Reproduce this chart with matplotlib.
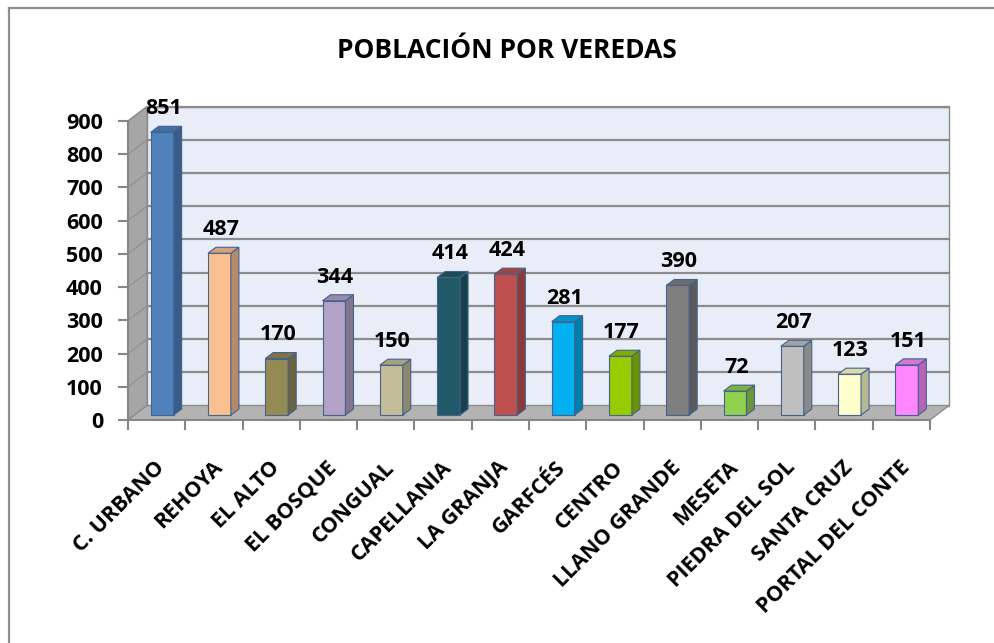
import matplotlib
matplotlib.use("Agg")
import matplotlib.pyplot as plt
from matplotlib.patches import Polygon
from matplotlib.lines import Line2D
from matplotlib.colors import to_rgb

veredas = ["C. URBANO", "REHOYA", "EL ALTO", "EL BOSQUE", "CONGUAL", "CAPELLANIA",
           "LA GRANJA", "GARFCÉS", "CENTRO", "LLANO GRANDE", "MESETA",
           "PIEDRA DEL SOL", "SANTA CRUZ", "PORTAL DEL CONTE"]
poblacion = [851, 487, 170, 344, 150, 414, 424, 281, 177, 390, 72, 207, 123, 151]
colores = ["#4f81bd", "#fac090", "#948a54", "#b3a2c7", "#c4bd97", "#215968",
           "#c0504d", "#00b0f0", "#99cc00", "#7f7f7f", "#92d050",
           "#bfbfbf", "#ffffcc", "#ff88ff"]
y_ticks = list(range(0, 1000, 100))

plt.rcParams['font.family'] = ['Open Sans', 'DejaVu Sans']

W, H = 994, 643
fig = plt.figure(figsize=(W / 100, H / 100), dpi=100)
ax = fig.add_axes([128 / W, 1 - 420 / H, 802 / W, 299 / H])
n = len(veredas)
ax.set_xlim(0, n)
ax.set_ylim(0, 900)
ax.patch.set_visible(False)

# profundidad del "3D" (unidades de datos)
dx, dy = 0.332, 43.6
wall_edge = "#8c8c8c"

ax.add_patch(Polygon([(dx, dy), (n + dx, dy), (n + dx, 900 + dy), (dx, 900 + dy)],
                     closed=True, fc="#e9edf7", ec=wall_edge, lw=1, clip_on=False, zorder=0))
ax.add_patch(Polygon([(0, 0), (dx, dy), (dx, 900 + dy), (0, 900)],
                     closed=True, fc="#a6a6a6", ec=wall_edge, lw=1, clip_on=False, zorder=1))
ax.add_patch(Polygon([(0, 0), (n, 0), (n + dx, dy), (dx, dy)],
                     closed=True, fc="#b3b3b3", ec=wall_edge, lw=1, clip_on=False, zorder=1))
for v in y_ticks[1:]:
    ax.plot([dx, n + dx], [v + dy, v + dy], color="#8c8c8c", lw=1.6, zorder=0.5, clip_on=False)
    ax.plot([0, dx], [v, v + dy], color="#8e8e8e", lw=0.8, zorder=1.5, clip_on=False)

# barras
bw, boff, by = 0.40, 0.096, 15
bdx, bdy = 0.14, 18


def shade(c, f):
    r, g, b = to_rgb(c)
    return (r * f, g * f, b * f)


for i, (val, col) in enumerate(zip(poblacion, colores)):
    x0 = i + 0.5 + boff - bw / 2
    top = val + by
    ec = "#43628f"
    ax.add_patch(Polygon([(x0, by), (x0 + bw, by), (x0 + bw, top), (x0, top)],
                         closed=True, fc=col, ec=ec, lw=0.8, zorder=3, clip_on=False))
    ax.add_patch(Polygon([(x0 + bw, by), (x0 + bw + bdx, by + bdy), (x0 + bw + bdx, top + bdy), (x0 + bw, top)],
                         closed=True, fc=shade(col, 0.72), ec=ec, lw=0.8, zorder=3, clip_on=False))
    ax.add_patch(Polygon([(x0, top), (x0 + bw, top), (x0 + bw + bdx, top + bdy), (x0 + bdx, top + bdy)],
                         closed=True, fc=shade(col, 0.85), ec=ec, lw=0.8, zorder=3, clip_on=False))
    ax.annotate(str(val), (x0 + bw / 2 + 0.02, top), xytext=(0, 17), textcoords="offset points",
                ha="center", va="center", fontsize=15.5, fontweight="bold", zorder=4)

for s in ["top", "right"]:
    ax.spines[s].set_visible(False)
for s in ["left", "bottom"]:
    ax.spines[s].set_color("#868686")
    ax.spines[s].set_linewidth(1.5)
    ax.spines[s].set_zorder(2)

ax.set_xticks(range(n + 1))
ax.set_xticklabels([])
ax.tick_params(axis="x", length=7, width=1.5, color="#868686")
ax.set_yticks(y_ticks)
ax.set_yticklabels([str(v) for v in y_ticks], fontsize=15.5, fontweight="bold")
ax.tick_params(axis="y", length=7, width=1.5, color="#868686", pad=11)

for i, name in enumerate(veredas):
    ax.text(i + 0.5 - 0.04, -111, name, rotation=45, rotation_mode="anchor",
            ha="right", va="top", fontsize=15.5, fontweight="bold", clip_on=False)

fig.text(507 / W, 1 - 50 / H, "POBLACIÓN POR VEREDAS", ha="center", va="center",
         fontsize=19, fontweight="bold")

fig.add_artist(Line2D([9 / W, 1], [1 - 8 / H, 1 - 8 / H], transform=fig.transFigure,
                      color="#8f8f8f", lw=1.6))
fig.add_artist(Line2D([9 / W, 9 / W], [0, 1 - 8 / H], transform=fig.transFigure,
                      color="#8f8f8f", lw=1.6))

fig.savefig("out.png", dpi=100)
